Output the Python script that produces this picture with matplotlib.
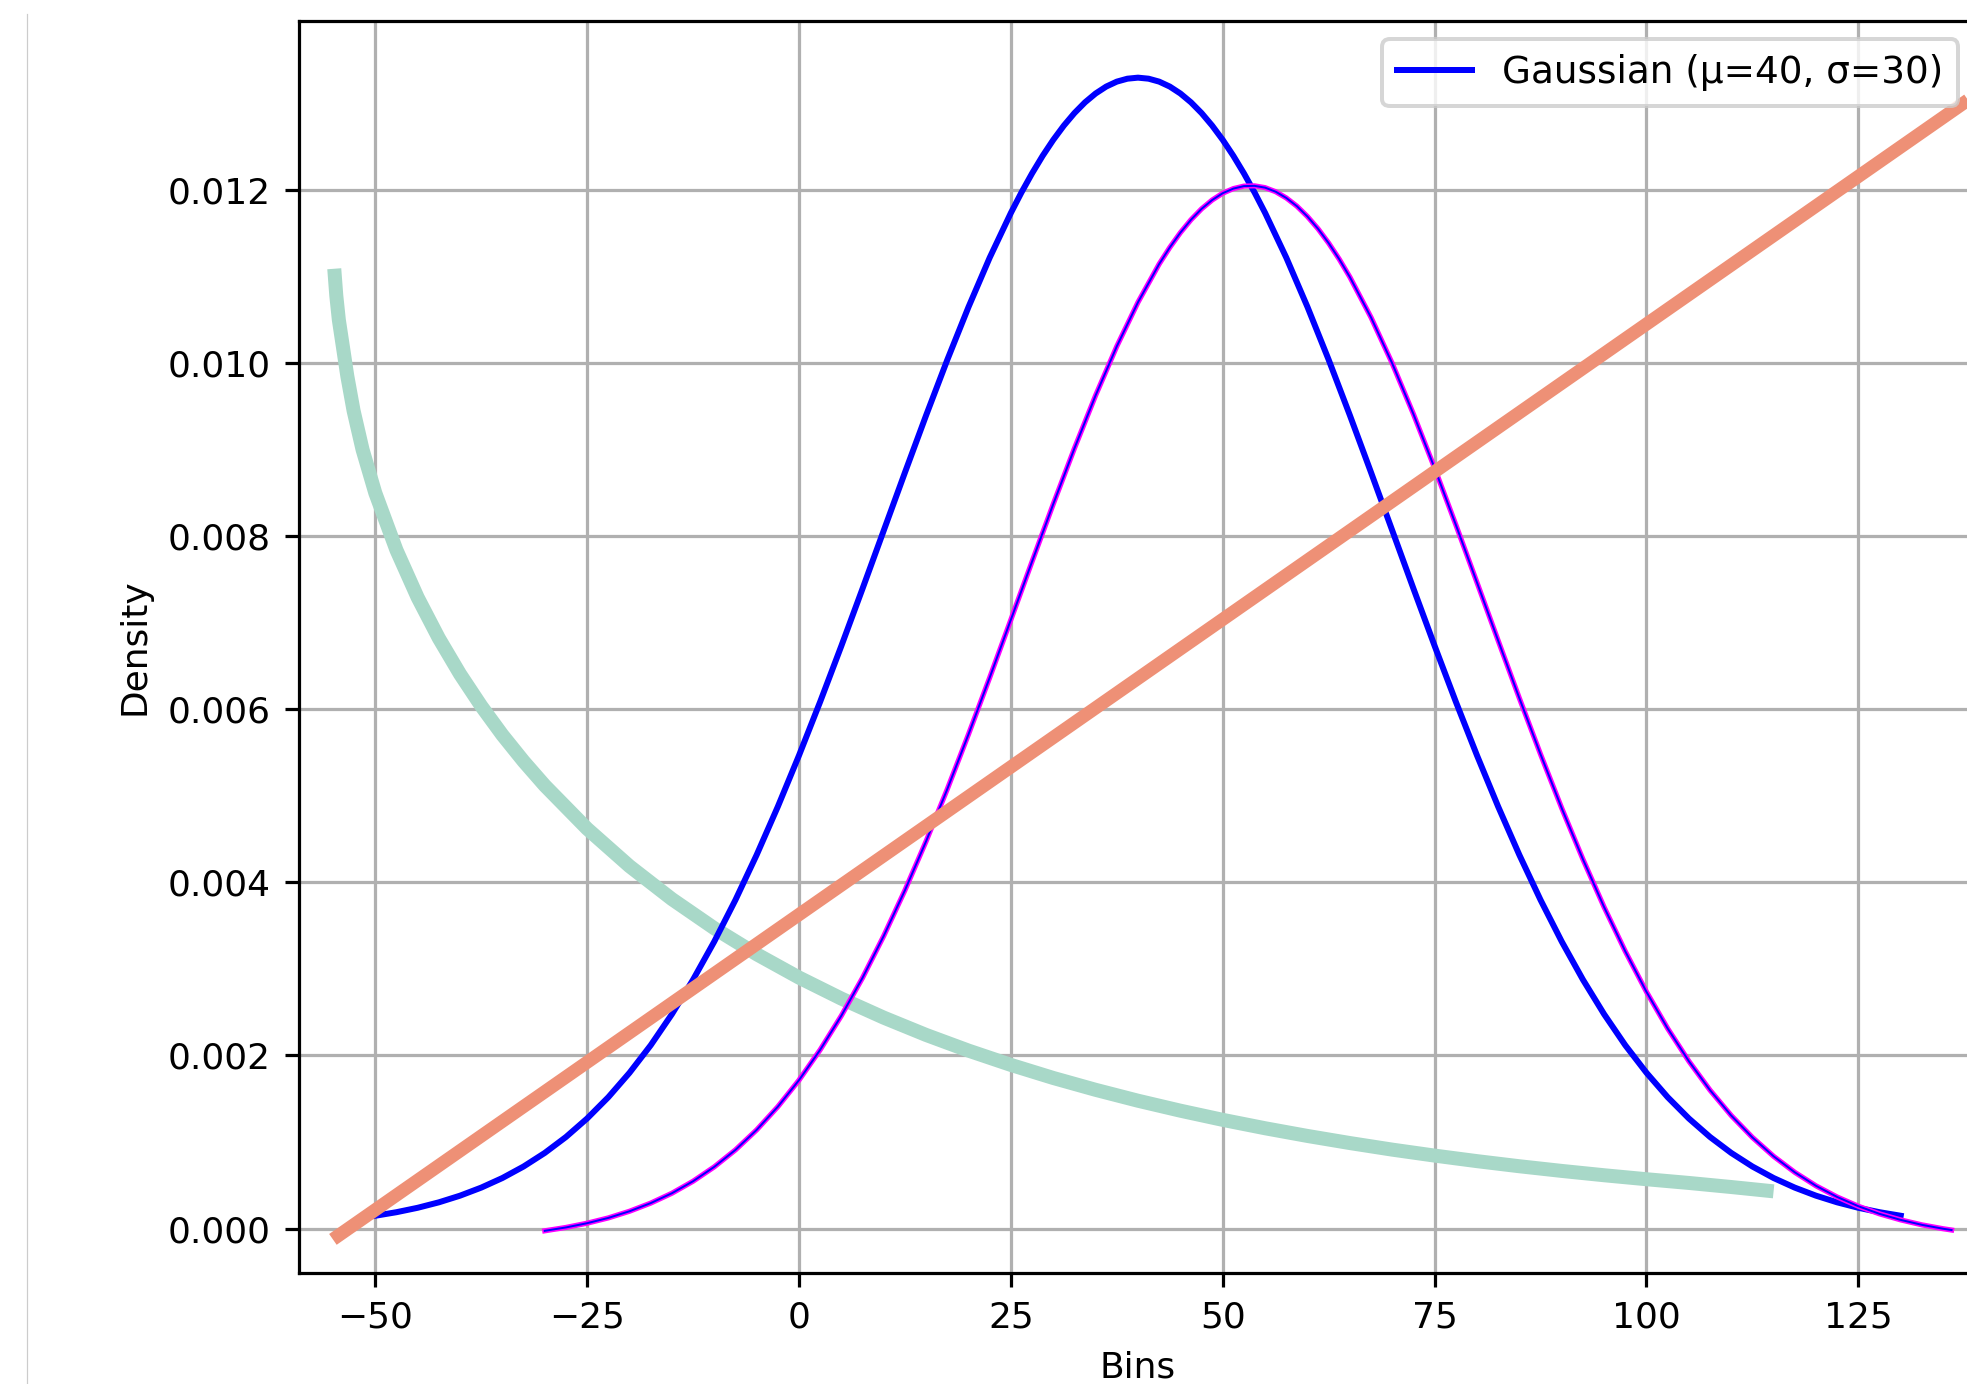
import numpy as np
import matplotlib
matplotlib.use("Agg")
import matplotlib.pyplot as plt
from matplotlib.lines import Line2D

# ---- data ----
gauss_label = "Gaussian (\u03bc=40, \u03c3=30)"

gauss_x = np.concatenate([np.arange(-50, 24.9, 2.5), np.arange(25, 55.01, 1.25),
                          np.arange(57.5, 130.01, 2.5)])
gauss_y = [0.000148, 0.000189, 0.000240, 0.000303, 0.000380, 0.000473, 0.000584, 0.000717,
           0.000874, 0.001058, 0.001272, 0.001518, 0.001800, 0.002118, 0.002477, 0.002876,
           0.003316, 0.003797, 0.004317, 0.004875, 0.005467, 0.006088, 0.006733, 0.007395,
           0.008066, 0.008736, 0.009397, 0.010038, 0.010648, 0.011218,
           0.011735, 0.011972, 0.012192, 0.012395, 0.012579, 0.012744, 0.012889, 0.013013,
           0.013115, 0.013195, 0.013252, 0.013286, 0.013298, 0.013286, 0.013252, 0.013195,
           0.013115, 0.013013, 0.012889, 0.012744, 0.012579, 0.012395, 0.012192, 0.011972,
           0.011735,
           0.011218, 0.010648, 0.010038, 0.009397, 0.008736, 0.008066, 0.007395, 0.006733,
           0.006088, 0.005467, 0.004875, 0.004317, 0.003797, 0.003316, 0.002876, 0.002477,
           0.002118, 0.001800, 0.001518, 0.001272, 0.001058, 0.000874, 0.000717, 0.000584,
           0.000473, 0.000380, 0.000303, 0.000240, 0.000189, 0.000148]

kde_x = list(np.concatenate([np.arange(-30, 42.4, 2.5), np.arange(42.5, 65.01, 1.25),
                             np.arange(67.5, 135.01, 2.5)])) + [136]
kde_y = [-0.000026, 0.000013, 0.000062, 0.000123, 0.000200, 0.000294, 0.000408, 0.000547,
         0.000713, 0.000909, 0.001140, 0.001408, 0.001715, 0.002066, 0.002460, 0.002898,
         0.003382, 0.003909, 0.004476, 0.005078, 0.005711, 0.006366, 0.007035, 0.007707,
         0.008371, 0.009015, 0.009627, 0.010194, 0.010703,
         0.011145, 0.011336, 0.011507, 0.011656, 0.011782, 0.011884, 0.011963, 0.012016,
         0.012045, 0.012048, 0.012027, 0.011980, 0.011908, 0.011813, 0.011693, 0.011551,
         0.011386, 0.011200, 0.010994,
         0.010527, 0.009996, 0.009411, 0.008787, 0.008133, 0.007465, 0.006793, 0.006128,
         0.005480, 0.004857, 0.004267, 0.003714, 0.003203, 0.002735, 0.002312, 0.001934,
         0.001599, 0.001306, 0.001053, 0.000835, 0.000650, 0.000494, 0.000365, 0.000258,
         0.000170, 0.000100, 0.000043, -0.000002, -0.000017]

decay_x = [-54.84, -54.6, -54.3, -53.93, -53.3, -52.56, -51.5, -50, -47.5, -45, -42.5, -40,
           -37.5, -35, -32.5, -30, -25, -20, -15, -10, -5, 0, 5, 10, 15, 20, 25, 30, 35, 40,
           45, 50, 55, 60, 65, 70, 75, 80, 85, 90, 95, 100, 105, 110, 115]
decay_y = [0.01109, 0.01078, 0.01050, 0.01026, 0.00985, 0.00945, 0.00900, 0.008500,
           0.007839, 0.007292, 0.006821, 0.006407, 0.006038, 0.005703, 0.005399, 0.005119,
           0.004620, 0.004187, 0.003807, 0.003470, 0.003170, 0.002900, 0.002657, 0.002437,
           0.002237, 0.002056, 0.001891, 0.001740, 0.001603, 0.001477, 0.001362, 0.001256,
           0.001159, 0.001070, 0.000988, 0.000912, 0.000843, 0.000779, 0.000720, 0.000666,
           0.000616, 0.000570, 0.000527, 0.000480, 0.000430]

line_x = [-55, 140]
line_y = [-0.000125, 0.013180]

x_limits = (-59, 139)
y_limits = (-0.000510, 0.013956)

# ---- figure ----
DPI = 288
plt.rcParams["font.size"] = 9
fig = plt.figure(figsize=(1967 / DPI, 1384 / DPI), dpi=DPI)
ax = fig.add_axes([0.15201, 0.08042, 0.85307, 0.90462])

ax.plot(decay_x, decay_y, color="#a8d8c8", lw=3.5, solid_capstyle="butt",
        solid_joinstyle="round", zorder=2.0)
ax.plot(gauss_x, gauss_y, color="blue", lw=1.5, label=gauss_label, zorder=2.1)
ax.plot(kde_x, kde_y, color="#ff00ff", lw=1.3, zorder=2.2)
ax.plot(kde_x, kde_y, color="blue", lw=0.5, zorder=2.25)
ax.plot(line_x, line_y, color="#ee9076", lw=3.3, solid_capstyle="butt", zorder=2.3)

ax.set_xlim(*x_limits)
ax.set_ylim(*y_limits)
ax.set_xticks([-50, -25, 0, 25, 50, 75, 100, 125])
ax.set_yticks([0.000, 0.002, 0.004, 0.006, 0.008, 0.010, 0.012])
ax.grid(True)
ax.set_xlabel("Bins")
ax.set_ylabel("Density")
ax.legend(loc="upper right", fontsize=9.35)

# faint frame line at the far left of the screenshot
fig.add_artist(Line2D([27.3 / 1967, 27.3 / 1967], [0, 1 - 14 / 1384],
                      transform=fig.transFigure, color="#cccccc", lw=0.3))

fig.savefig("out.png", dpi=DPI)
